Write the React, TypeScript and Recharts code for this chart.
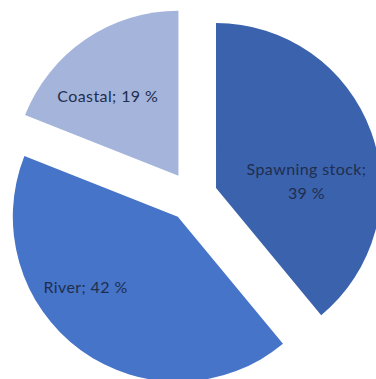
import { PieChart, Pie, Cell, Sector } from "recharts";

const categories = ["Spawning stock", "River", "Coastal"];
const shares = [39, 42, 19];
const colors = ["#3b62ad", "#4674c8", "#a4b4db"];

const data = categories.map((name, i) => ({ name, value: shares[i] }));

const RAD = Math.PI / 180;
const EXPLODE = 25;

// label placement tweaks per slice (angle shift from mid angle, radius fraction)
const labelLayout = [
  { shift: -15, frac: 0.55, wrap: true },
  { shift: -17, frac: 0.7, wrap: false },
  { shift: 7, frac: 0.65, wrap: false },
];

function ExplodedSector(props: any) {
  const { cx, cy, midAngle } = props;
  const dx = EXPLODE * Math.cos(midAngle * RAD);
  const dy = -EXPLODE * Math.sin(midAngle * RAD);
  return <Sector {...props} cx={cx + dx} cy={cy + dy} />;
}

function renderLabel(props: any) {
  const { cx, cy, midAngle, outerRadius, index, name, value } = props;
  const ax = cx + EXPLODE * Math.cos(midAngle * RAD);
  const ay = cy - EXPLODE * Math.sin(midAngle * RAD);
  const lay = labelLayout[index];
  const a = (midAngle + lay.shift) * RAD;
  const x = ax + outerRadius * lay.frac * Math.cos(a);
  const y = ay - outerRadius * lay.frac * Math.sin(a);
  const style = { fontFamily: "Lato, sans-serif", fontSize: 16, letterSpacing: 0.4, fill: "#1f2e4e" };
  if (lay.wrap) {
    return (
      <text x={x} y={y} textAnchor="middle" style={style}>
        <tspan x={x} dy={-12} dominantBaseline="central">{name};</tspan>
        <tspan x={x} dy={24} dominantBaseline="central">{value} %</tspan>
      </text>
    );
  }
  return (
    <text x={x} y={y} textAnchor="middle" dominantBaseline="central" style={style}>
      {name}; {value} %
    </text>
  );
}

export default function App() {
  return (
    <div style={{ position: "absolute", left: 0, top: 0, width: 376, height: 379, background: "#fff" }}>
      <PieChart width={376} height={379} margin={{ top: 0, right: 0, bottom: 0, left: 0 }}>
        <Pie
          data={data}
          dataKey="value"
          nameKey="name"
          cx={192.5}
          cy={196.5}
          outerRadius={165}
          startAngle={90}
          endAngle={-270}
          stroke="none"
          shape={ExplodedSector}
          inactiveShape={ExplodedSector}
          activeShape={ExplodedSector}
          label={renderLabel}
          labelLine={false}
          isAnimationActive={false}
        >
          {data.map((d, i) => (
            <Cell key={d.name} fill={colors[i]} />
          ))}
        </Pie>
      </PieChart>
    </div>
  );
}
